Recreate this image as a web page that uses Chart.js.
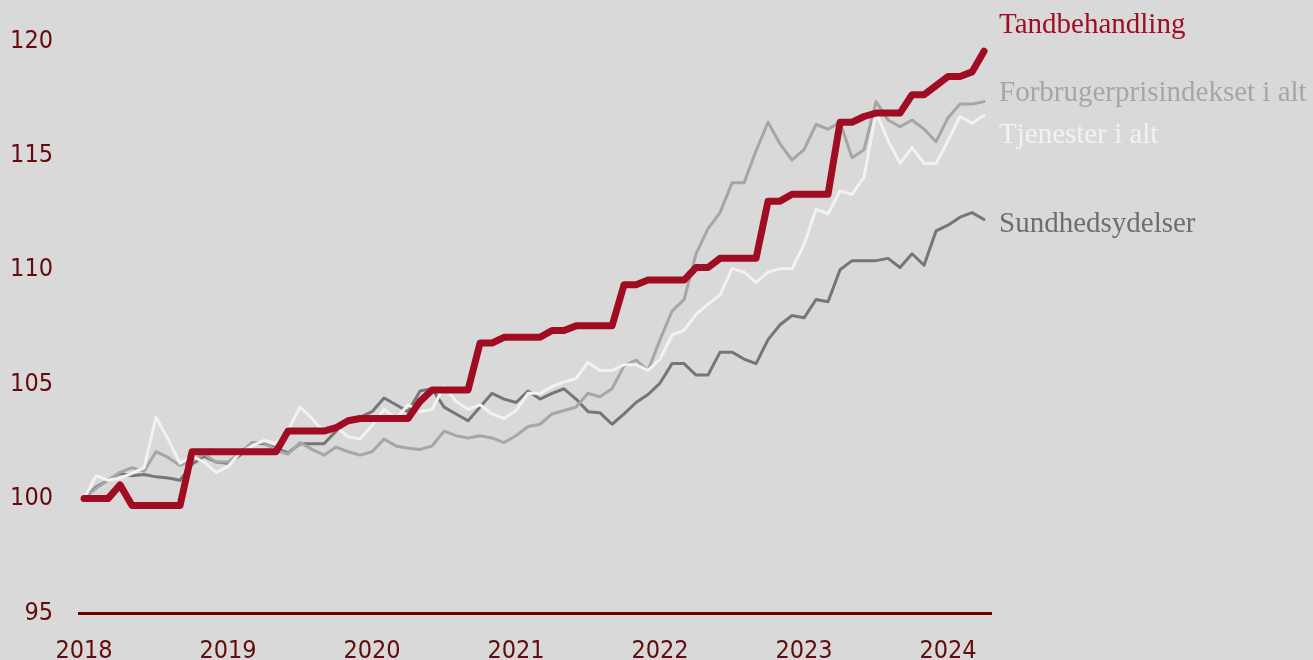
<!DOCTYPE html>
<html>
<head>
<meta charset="utf-8">
<script src="https://cdn.jsdelivr.net/npm/chart.js@4.4.1/dist/chart.umd.min.js"></script>
<style>
  html, body { margin: 0; padding: 0; background: #d9d9d9; }
  #wrap { width: 1313px; height: 660px; position: relative; }
</style>
</head>
<body>
<div id="wrap"><canvas id="c" width="1313" height="660"></canvas></div>
<script>
// Monthly index, January 2018 = 100 (Jan 2018 .. Apr 2024)
const yearLabels = ["2018", "2019", "2020", "2021", "2022", "2023", "2024"];
const yTicks = [95, 100, 105, 110, 115, 120];
const seriesNames = ["Tandbehandling", "Forbrugerprisindekset i alt", "Tjenester i alt", "Sundhedsydelser"];

const tandbehandling = [
  100, 100, 100, 100.6, 99.7, 99.7, 99.7, 99.7, 99.7, 102.05, 102.05, 102.05,
  102.05, 102.05, 102.05, 102.05, 102.05, 102.95, 102.95, 102.95, 102.95, 103.1, 103.4, 103.5,
  103.5, 103.5, 103.5, 103.5, 104.25, 104.75, 104.75, 104.75, 104.75, 106.8, 106.8, 107.05,
  107.05, 107.05, 107.05, 107.35, 107.35, 107.55, 107.55, 107.55, 107.55, 109.35, 109.35, 109.55,
  109.55, 109.55, 109.55, 110.1, 110.1, 110.5, 110.5, 110.5, 110.5, 113.0, 113.0, 113.3,
  113.3, 113.3, 113.3, 116.45, 116.45, 116.7, 116.85, 116.85, 116.85, 117.65, 117.65, 118.05,
  118.45, 118.45, 118.65, 119.55
];
const forbrugerpris = [
  100, 100.45, 100.8, 101.15, 101.35, 101.2, 102.05, 101.8, 101.45, 101.65, 101.95, 101.6,
  101.6, 102.0, 102.45, 102.45, 102.1, 101.95, 102.45, 102.15, 101.9, 102.25, 102.05, 101.9,
  102.05, 102.6, 102.3, 102.2, 102.15, 102.3, 102.95, 102.75, 102.65, 102.75, 102.65, 102.45,
  102.75, 103.15, 103.25, 103.7, 103.85, 104.0, 104.6, 104.45, 104.8, 105.8, 106.05, 105.6,
  106.95, 108.2, 108.7, 110.7, 111.8, 112.5, 113.8, 113.8, 115.2, 116.45, 115.5, 114.8,
  115.25, 116.35, 116.15, 116.45, 114.9, 115.25, 117.35, 116.55, 116.25, 116.55, 116.15, 115.6,
  116.65, 117.25, 117.25, 117.35
];
const tjenester = [
  100, 101.0, 100.8, 100.9, 101.1, 101.35, 103.55, 102.6, 101.55, 101.85, 101.6, 101.15,
  101.4, 102.0, 102.3, 102.55, 102.4, 103.0, 104.0, 103.5, 102.9, 103.15, 102.7, 102.6,
  103.2, 103.9, 103.5, 104.1, 103.8, 103.9, 104.9, 104.25, 103.9, 104.1, 103.7, 103.5,
  103.85, 104.6, 104.6, 104.9, 105.1, 105.25, 105.95, 105.6, 105.6, 105.85, 105.85, 105.6,
  106.1, 107.15, 107.35, 108.05, 108.5, 108.9, 110.05, 109.9, 109.45, 109.9, 110.05, 110.05,
  111.1, 112.65, 112.45, 113.45, 113.3, 114.05, 116.9, 115.65, 114.65, 115.35, 114.65, 114.65,
  115.65, 116.7, 116.4, 116.75
];
const sundhed = [
  100, 100.5, 100.8, 101.1, 101.0, 101.05, 100.95, 100.9, 100.8, 101.5, 101.85, 101.6,
  101.55, 101.9, 102.45, 102.4, 102.2, 102.0, 102.4, 102.4, 102.4, 102.95, 103.4, 103.55,
  103.8, 104.4, 104.1, 103.8, 104.7, 104.8, 104.0, 103.7, 103.4, 104.0, 104.6, 104.35,
  104.2, 104.7, 104.35, 104.6, 104.8, 104.35, 103.8, 103.75, 103.25, 103.7, 104.2, 104.55,
  105.05, 105.9, 105.9, 105.4, 105.4, 106.4, 106.4, 106.1, 105.9, 106.95, 107.6, 108.0,
  107.9, 108.7, 108.6, 110.0, 110.4, 110.4, 110.4, 110.5, 110.1, 110.7, 110.2, 111.7,
  111.95, 112.3, 112.5, 112.2
];

const toXY = arr => arr.map((v, i) => ({ x: i, y: v }));

const tickColor = "#650a0d";
const tickFont = { family: "'Liberation Sans Narrow', 'DejaVu Sans Condensed', 'Open Sans', sans-serif", size: 25 };

const endLabels = {
  id: "endLabels",
  afterDraw(chart) {
    const ctx = chart.ctx;
    const x = chart.chartArea.right + 8;
    const items = [
      { text: seriesNames[0], y: 25, color: "#a00d22" },
      { text: seriesNames[1], y: 93, color: "#a6a6a6" },
      { text: seriesNames[2], y: 135, color: "#f2f2f2" },
      { text: seriesNames[3], y: 224, color: "#6e6e6e" }
    ];
    ctx.save();
    ctx.font = "29px 'Liberation Serif', 'DejaVu Serif', serif";
    ctx.textBaseline = "middle";
    ctx.textAlign = "left";
    items.forEach(it => { ctx.fillStyle = it.color; ctx.fillText(it.text, x, it.y); });
    ctx.restore();
  }
};

new Chart(document.getElementById("c"), {
  type: "line",
  data: {
    datasets: [
      { label: seriesNames[0], data: toXY(tandbehandling), borderColor: "#a00d22", borderWidth: 7, order: 0 },
      { label: seriesNames[2], data: toXY(tjenester), borderColor: "#f2f2f2", borderWidth: 3, order: 1 },
      { label: seriesNames[1], data: toXY(forbrugerpris), borderColor: "#a6a6a6", borderWidth: 3, order: 2 },
      { label: seriesNames[3], data: toXY(sundhed), borderColor: "#767676", borderWidth: 3, order: 3 }
    ].map(d => Object.assign(d, {
      pointRadius: 0, fill: false, tension: 0,
      borderCapStyle: "round", borderJoinStyle: "round"
    }))
  },
  options: {
    responsive: false,
    animation: false,
    events: [],
    layout: { padding: { left: 0, right: 322, top: 38, bottom: 0 } },
    plugins: { legend: { display: false }, tooltip: { enabled: false }, title: { display: false } },
    scales: {
      x: {
        type: "linear",
        min: -0.42,
        max: 75.58,
        afterBuildTicks(scale) { scale.ticks = yearLabels.map((_, k) => ({ value: k * 12 })); },
        afterFit(scale) { scale.height = 47; },
        ticks: {
          callback: v => yearLabels[Math.round(v / 12)],
          color: tickColor, font: tickFont, padding: 23, maxRotation: 0, autoSkip: false
        },
        grid: { display: false, drawTicks: false },
        border: { display: true, color: "#6b0000", width: 3 }
      },
      y: {
        min: 95, max: 120,
        afterBuildTicks(scale) { scale.ticks = yTicks.map(v => ({ value: v })); },
        afterFit(scale) { scale.width = 79; },
        ticks: { color: tickColor, font: tickFont, padding: 26 },
        grid: { display: false, drawTicks: false },
        border: { display: false }
      }
    }
  },
  plugins: [endLabels]
});
</script>
</body>
</html>
